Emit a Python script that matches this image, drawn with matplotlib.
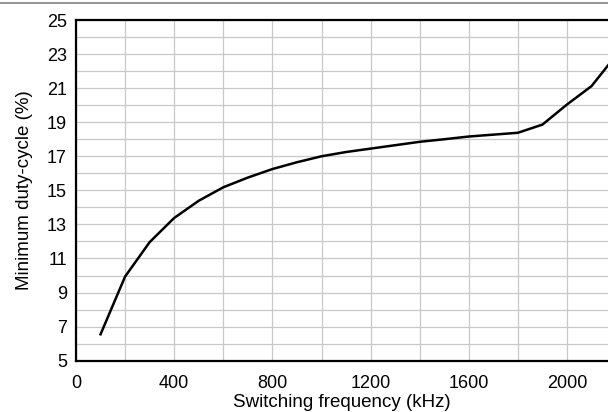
import matplotlib
matplotlib.use("Agg")
import matplotlib.pyplot as plt
from matplotlib.lines import Line2D
import numpy as np

freq_khz = [100, 200, 300, 400, 500, 600, 700, 800, 900, 1000, 1100, 1200,
            1300, 1400, 1500, 1600, 1700, 1800, 1900, 2000, 2100, 2200]
min_duty = [6.55, 9.94, 11.96, 13.38, 14.39, 15.18, 15.75, 16.25, 16.65, 17.0,
            17.25, 17.45, 17.65, 17.85, 18.0, 18.16, 18.27, 18.38, 18.86, 20.04,
            21.12, 22.93]
x_ticks = [0, 400, 800, 1200, 1600, 2000]
y_ticks = [5, 7, 9, 11, 13, 15, 17, 19, 21, 23, 25]

plt.rcParams['font.family'] = ['Liberation Sans', 'DejaVu Sans']

fig = plt.figure(figsize=(6.08, 4.12), dpi=100)
ax = fig.add_axes([76/608, 51.3/412, 1 - 76/608, (360.7-20)/412])

ax.plot(freq_khz, min_duty, color='black', lw=1.8, solid_joinstyle='miter')

ax.set_xlim(0, 2167)
ax.set_ylim(5, 25)
ax.set_xticks(x_ticks)
ax.set_xticks(np.arange(0, 2200, 200), minor=True)
ax.set_yticks(y_ticks)
ax.set_yticks(np.arange(5, 26, 1), minor=True)
ax.grid(which='both', color='#c8c8c8', lw=0.9)
ax.set_axisbelow(True)
ax.tick_params(which='both', length=0, labelsize=13)
ax.tick_params(axis='x', pad=10.5)
ax.tick_params(axis='y', pad=6.5)

for s in ['left', 'bottom', 'top']:
    ax.spines[s].set_linewidth(1.6)
    ax.spines[s].set_color('black')
ax.spines['right'].set_visible(False)

ax.set_xlabel('Switching frequency (kHz)', fontsize=13.5, labelpad=1.5)
ax.set_ylabel('Minimum duty-cycle (%)', fontsize=13.5, labelpad=10)

fig.add_artist(Line2D([0, 1], [1 - 2.5/412, 1 - 2.5/412], color='#8a8a8a', lw=1.3,
                      transform=fig.transFigure))

fig.savefig('out.png', dpi=100)
